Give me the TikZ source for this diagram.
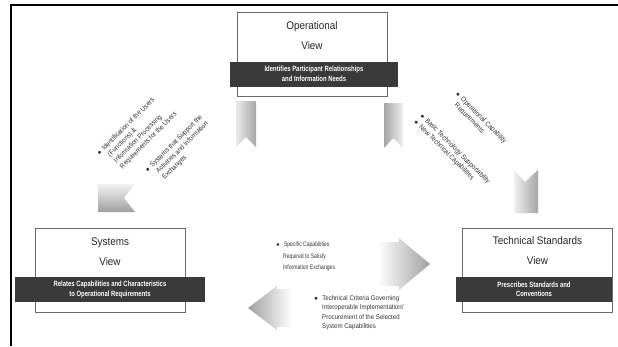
\documentclass[tikz,border=0pt]{standalone}
\usepackage{fontspec}
\setmainfont{Liberation Sans}
\newfontfamily\condfont[FakeStretch=0.78]{Liberation Sans}
\newfontfamily\narrowfont[FakeStretch=0.9]{Liberation Sans}
\definecolor{bandgray}{HTML}{3A3A3A}
\definecolor{boxline}{HTML}{6A6A6A}
\begin{document}
\begin{tikzpicture}[x=1pt,y=-1pt,
  viewbox/.style={draw=boxline,line width=0.9pt,fill=white,minimum width=150pt,minimum height=84pt,inner sep=0pt},
  viewtitle/.style={font=\narrowfont\fontsize{11}{20}\selectfont,align=center,text=black!85,inner sep=0pt},
  band/.style={fill=bandgray,text=white,font=\condfont\bfseries\fontsize{7.6}{9.5}\selectfont,align=center,minimum height=25pt,inner sep=1pt},
  diagtext/.style={font=\narrowfont\fontsize{7}{8.6}\selectfont,align=left,text=black!80,inner sep=0pt},
  bultext/.style={font=\fontsize{6.5}{10}\selectfont,align=left,text=black!80,inner sep=0pt}
]
\useasboundingbox (0,0) rectangle (618,346);
% frame
\draw[line width=1.3pt] (11,346) -- (11,5) -- (618,5);

% view boxes
\node[viewbox] (op) at (312,54.5) {};
\node[viewtitle] (optitle) at (312,36) {Operational\\View};
\node[band,minimum width=168pt] (opband) at (314,74) {Identifies Participant Relationships\\and Information Needs};

\node[viewbox] (sys) at (110,270) {};
\node[viewtitle] (systitle) at (110,252) {Systems\\View};
\node[band,minimum width=190pt] (sysband) at (110,289.5) {Relates Capabilities and Characteristics\\to Operational Requirements};

\node[viewbox] (tech) at (537.5,270) {};
\node[viewtitle] (techtitle) at (537.5,251) {Technical Standards\\View};
\node[band,minimum width=156pt] (techband) at (534,289.5) {Prescribes Standards and\\Conventions};

% ribbon arrows
\shade[left color=gray!15,right color=gray!70] (236,101) -- (256,101) -- (256,147) -- (246,137) -- (236,147) -- cycle;
\shade[top color=gray!10,bottom color=gray!75] (98,184) -- (135,184) -- (124,198) -- (135,212) -- (98,212) -- cycle;
\shade[left color=gray!70,right color=gray!12] (384,103) -- (403,103) -- (403,148) -- (393.5,138) -- (384,148) -- cycle;
\shade[left color=gray!12,right color=gray!70] (514,170) -- (525,182) -- (538,170) -- (538,213) -- (514,213) -- cycle;
\shade[left color=white,right color=gray!75] (378,242) -- (399,242) -- (399,238) -- (430,264) -- (399,290) -- (399,286) -- (378,286) -- cycle;
\shade[left color=gray!75,right color=white] (248,308) -- (277,286) -- (277,289) -- (292,289) -- (292,327) -- (277,327) -- (277,330) -- cycle;

% diagonal texts (left)
\node[diagtext,rotate=45] (l1) at (137,134) {$\bullet$\hspace{3pt}Identification of the Users\\\hspace*{7pt}(Functions) \&\\\hspace*{7pt}Information Processing\\\hspace*{7pt}Requirements for the Users};
\node[diagtext,rotate=45] (l2) at (180,150) {$\bullet$\hspace{3pt}Systems that Support the\\\hspace*{7pt}Activities and Information\\\hspace*{7pt}Exchanges};

% diagonal texts (right)
\node[diagtext,rotate=-45] (r1) at (478,121) {$\bullet$\hspace{3pt}Operational Capability\\\hspace*{7pt}Requirements};
\node[diagtext,rotate=-45] (r2) at (452,152) {$\bullet$\hspace{3pt}Basic Technology Supportability\\$\bullet$\hspace{3pt}New Technical Capabilities};

% bottom texts
\node[bultext,font=\condfont\fontsize{6.5}{11.5}\selectfont,anchor=north west] (b1) at (276,242) {$\bullet$\hspace{4pt}Specific Capabilities\\\hspace*{7pt}Required to Satisfy\\\hspace*{7pt}Information Exchanges};
\node[bultext,font=\narrowfont\fontsize{6.8}{9.6}\selectfont,anchor=north west] (b2) at (314,295) {$\bullet$\hspace{4pt}Technical Criteria Governing\\\hspace*{8pt}Interoperable Implementation/\\\hspace*{8pt}Procurement of the Selected\\\hspace*{8pt}System Capabilities};
\end{tikzpicture}
\end{document}
